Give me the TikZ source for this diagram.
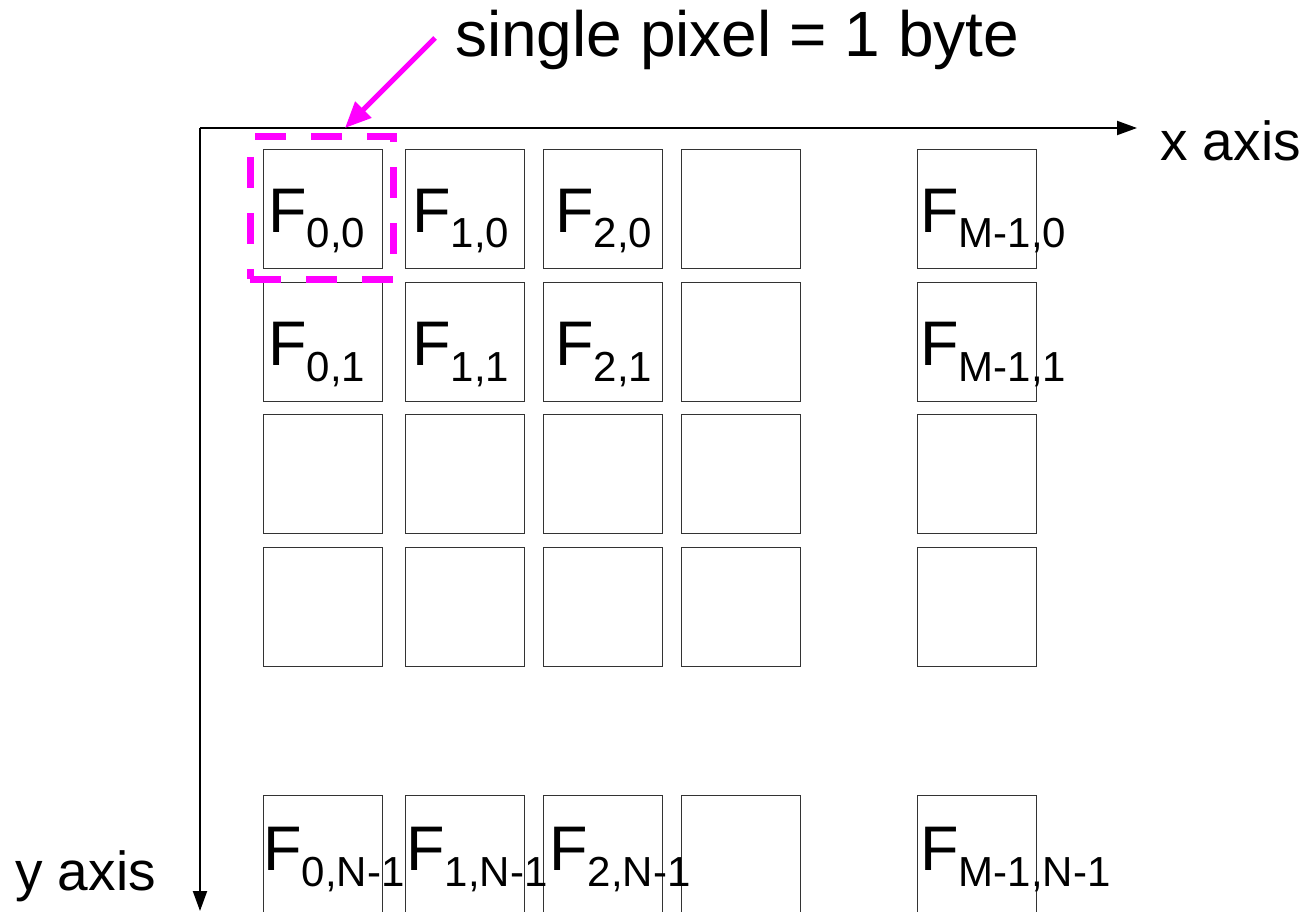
\documentclass[tikz,border=0pt]{standalone}
\usepackage{fontspec}
\setmainfont{Liberation Sans}
\usetikzlibrary{arrows.meta}
\definecolor{mag}{RGB}{255,0,255}
\newcommand\Flab[1]{{\fontsize{63}{63}\selectfont F}\raisebox{-16pt}{\fontsize{42}{42}\selectfont #1}}
\begin{document}
\begin{tikzpicture}[x=1pt,y=-1pt,
  cell/.style={draw=black!80, line width=1.3pt, minimum width=119pt, minimum height=119pt, inner sep=0pt, anchor=north west},
  lbl/.style={inner sep=0pt, anchor=base west},
  axisline/.style={line width=2pt, -{Triangle[length=20pt,width=14pt]}},
  big/.style={inner sep=0pt, anchor=base west, font=\fontsize{64}{64}\selectfont},
  axlbl/.style={inner sep=0pt, anchor=base west, font=\fontsize{55}{55}\selectfont},
  selbox/.style={draw=mag, line width=7pt, dash pattern=on 31pt off 25pt, inner sep=0pt, minimum width=143pt, minimum height=142pt},
  pointer/.style={draw=mag, line width=5pt, -{Triangle[length=26pt,width=22pt]}}
]
\clip (0,0) rectangle (1303,912);
\fill[white] (0,0) rectangle (1303,912);
% axes
\coordinate (o) at (200,128);
\coordinate (xe) at (1137,128);
\coordinate (ye) at (200,911);
\draw[axisline] (o) -- (xe);
\draw[axisline] (o) -- (ye);
\node[axlbl] (xl) at (1160,161) {x axis};
\node[axlbl] (yl) at (15,890) {y axis};
% cells
\foreach \c/\x in {0/263,1/405,2/543,3/681,4/917}{
  \foreach \r/\y in {0/149,1/282,2/414,3/547,4/795}{
    \node[cell] (c\c\r) at (\x,\y) {};
  }
}
% labels
\node[lbl] (l00) at (268,232) {\Flab{0,0}};
\node[lbl] (l10) at (412,232) {\Flab{1,0}};
\node[lbl] (l20) at (555,232) {\Flab{2,0}};
\node[lbl] (l40) at (920,232) {\Flab{M-1,0}};
\node[lbl] (l01) at (268,365) {\Flab{0,1}};
\node[lbl] (l11) at (412,365) {\Flab{1,1}};
\node[lbl] (l21) at (555,365) {\Flab{2,1}};
\node[lbl] (l41) at (920,365) {\Flab{M-1,1}};
\node[lbl] (l04) at (263,870) {\Flab{0,N-1}};
\node[lbl] (l14) at (406,870) {\Flab{1,N-1}};
\node[lbl] (l24) at (549,870) {\Flab{2,N-1}};
\node[lbl] (l44) at (920,870) {\Flab{M-1,N-1}};
% selection
\node[selbox] (sel) at (321.5,208) {};
\node[big] (title) at (455,57) {single pixel = 1 byte};
\coordinate (p0) at (435,38);
\coordinate (p1) at (345,128);
\draw[pointer] (p0) -- (p1);
\end{tikzpicture}
\end{document}
